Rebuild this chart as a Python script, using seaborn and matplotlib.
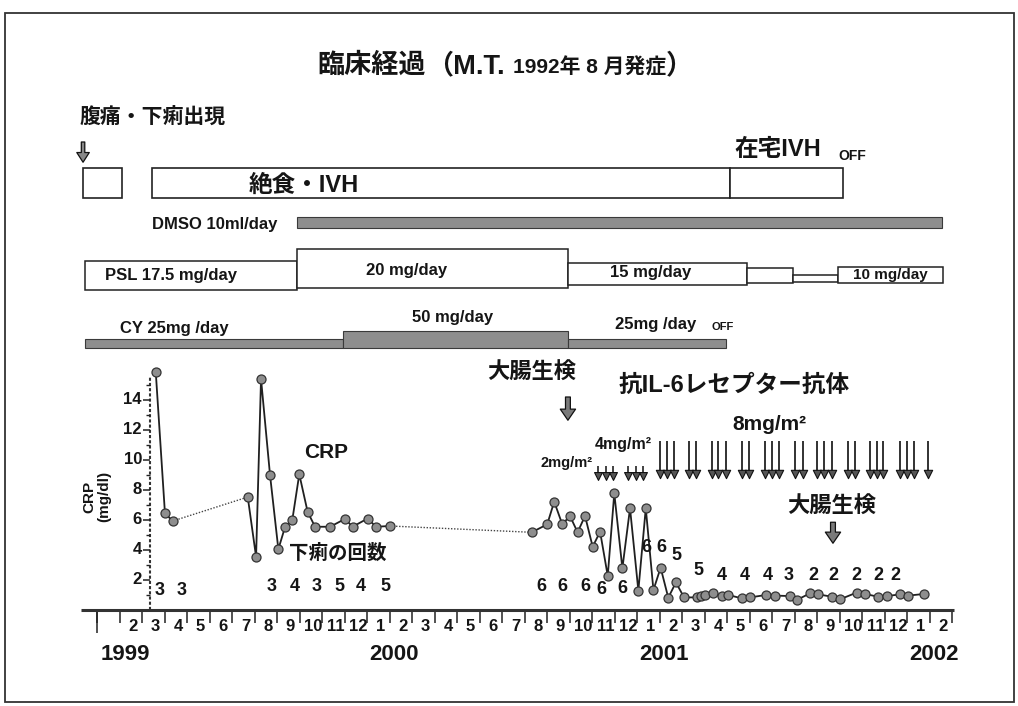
import numpy as np
import pandas as pd
import matplotlib
matplotlib.use("Agg")
import matplotlib.pyplot as plt
import seaborn as sns
from matplotlib.patches import Rectangle

# Time axis: months counted from 1 Jan 1999 (0 = start of Jan 1999)

# CRP (mg/dl), three observed stretches joined by dotted lines
crp_month_a = [2.61, 3.02, 3.36]
crp_value_a = [15.9, 6.45, 5.93]
crp_month_b = [6.70, 7.07, 7.29, 7.69, 8.06, 8.36, 8.68, 8.99, 9.36, 9.69,
               10.36, 11.02, 11.36, 12.03, 12.40, 13.02]
crp_value_b = [7.53, 3.55, 15.4, 9.0, 4.05, 5.55, 6.0, 9.05, 6.55, 5.55,
               5.55, 6.07, 5.55, 6.1, 5.55, 5.6]
crp_month_c = [19.32, 20.01, 20.32, 20.68, 21.02, 21.36, 21.69, 22.03, 22.36, 22.70,
               22.99, 23.35, 23.69, 24.06, 24.39, 24.73, 25.05, 25.39, 25.73, 26.09,
               26.65, 26.83, 27.02, 27.39, 27.76, 28.06, 28.65, 29.02, 29.73, 30.13,
               30.80, 31.10, 31.69, 32.06, 32.65, 33.02, 33.76, 34.13, 34.70, 35.10,
               35.69, 36.06, 36.76]
crp_value_c = [5.18, 5.71, 7.22, 5.71, 6.27, 5.18, 6.27, 4.22, 5.22, 2.27,
               7.78, 2.78, 6.78, 1.29, 6.78, 1.33, 2.82, 0.82, 1.84, 0.84,
               0.84, 0.93, 1.0, 1.11, 0.96, 1.0, 0.78, 0.84, 1.0, 0.96,
               0.93, 0.67, 1.11, 1.04, 0.89, 0.71, 1.16, 1.07, 0.89, 0.93,
               1.04, 0.96, 1.07]

# 下痢の回数 (diarrhoea count) labels
count_month = [2.8, 3.76, 7.76, 8.77, 9.76, 10.77, 11.73, 12.8,
               19.76, 20.7, 21.69, 22.43, 23.36, 24.43, 25.1, 25.76, 26.72,
               27.76, 28.8, 29.79, 30.72, 31.84, 32.72, 33.76, 34.72, 35.47]
count_text = ["3", "3", "3", "4", "3", "5", "4", "5",
              "6", "6", "6", "6", "6", "6", "6", "5", "5",
              "4", "4", "4", "3", "2", "2", "2", "2", "2"]
count_y = [1.3, 1.3, 1.55, 1.55, 1.55, 1.55, 1.55, 1.55,
           1.55, 1.55, 1.55, 1.35, 1.45, 4.15, 4.15, 3.6, 2.65,
           2.3, 2.3, 2.3, 2.33, 2.33, 2.33, 2.33, 2.33, 2.33]

# anti IL-6 receptor antibody doses
inj_small_month = [22.28, 22.61, 22.95, 23.61, 23.96, 24.28]
inj_large_month = [25.02, 25.32, 25.64, 26.31, 26.62, 27.32, 27.61, 27.96, 28.65,
                   28.99, 29.69, 30.01, 30.32, 31.02, 31.36, 31.99, 32.32, 32.65,
                   33.39, 33.69, 34.36, 34.65, 34.95, 35.69, 35.99, 36.31, 36.95]

# treatment rows
ivh_start = [-0.62, 2.44, 28.13]
ivh_end = [1.11, 28.13, 33.16]
dmso_start, dmso_end = 8.89, 37.56
psl_start = [-0.53, 8.89, 20.93, 28.89, 30.93, 32.93]
psl_end = [8.89, 20.93, 28.89, 30.93, 32.93, 37.6]
psl_text = ["PSL 17.5 mg/day", "20 mg/day", "15 mg/day", "", "", "10 mg/day"]
cy_start = [-0.53, 10.93, 20.93]
cy_end = [10.93, 20.93, 27.96]

month_labels = ["", "2", "3", "4", "5", "6", "7", "8", "9", "10", "11", "12",
                "1", "2", "3", "4", "5", "6", "7", "8", "9", "10", "11", "12",
                "1", "2", "3", "4", "5", "6", "7", "8", "9", "10", "11", "12",
                "1", "2"]
year_labels = ["1999", "2000", "2001", "2002"]
year_pos = [1.24, 13.2, 25.2, 37.2]
ytick_values = [2, 4, 6, 8, 10, 12, 14]

sns.set_style("white")
plt.rcParams["font.family"] = ["Liberation Sans", "Noto Sans CJK JP"]
plt.rcParams["font.weight"] = "bold"
INK = "#151515"

fig = plt.figure(figsize=(10.18, 7.06), dpi=100)
ax = fig.add_axes([0, 0, 1, 1])

# --- CRP curve
df = pd.concat([
    pd.DataFrame({"month": crp_month_a, "crp": crp_value_a, "seg": "a"}),
    pd.DataFrame({"month": crp_month_b, "crp": crp_value_b, "seg": "b"}),
    pd.DataFrame({"month": crp_month_c, "crp": crp_value_c, "seg": "c"}),
])
for (m0, v0), (m1, v1) in [((crp_month_a[-1], crp_value_a[-1]), (crp_month_b[0], crp_value_b[0])),
                           ((crp_month_b[-1], crp_value_b[-1]), (crp_month_c[0], crp_value_c[0]))]:
    ax.plot([m0, m1], [v0, v1], ls=(0, (1, 1.2)), lw=1.0, color="#444", zorder=2)
sns.lineplot(data=df, x="month", y="crp", units="seg", estimator=None, sort=False,
             color="#202020", lw=1.3, marker="o", markersize=6.5,
             markerfacecolor="#8e8e8e", markeredgecolor="#333", markeredgewidth=0.9,
             legend=False, ax=ax, zorder=3)

for m, t, y in zip(count_month, count_text, count_y):
    ax.text(m, y, t, fontsize=13, ha="center", va="center", color=INK)

# --- axes drawn by hand (slide style)
y_axis_x = 2.36
ax.hlines(0, -0.7, 38.1, color="#333", lw=2.2)
ax.vlines(np.arange(0, 39), -0.87, -0.1, color="#222", lw=1.1)
ax.vlines(0, -1.55, -0.1, color="#222", lw=1.1)
for i, lab in enumerate(month_labels):
    ax.text(i + 0.6, -1.13, lab, fontsize=12, ha="center", va="center", color=INK)
for x, lab in zip(year_pos, year_labels):
    ax.text(x, -2.95, lab, fontsize=16, ha="center", va="center", color=INK)

ax.vlines(y_axis_x, 0, 15.6, color="#333", lw=1.5, linestyles=(0, (1.5, 1)))
ax.hlines(ytick_values, y_axis_x - 0.32, y_axis_x, color="#222", lw=1.1)
ax.hlines(np.arange(1, 16, 2), y_axis_x - 0.18, y_axis_x, color="#222", lw=1.0)
for v in ytick_values:
    ax.text(y_axis_x - 0.36, v, str(v), fontsize=12, ha="right", va="center", color=INK)
ax.text(0.0, 7.55, "CRP\n(mg/dl)", rotation=90, fontsize=11, ha="center",
        va="center", linespacing=1.1, color=INK)

ax.text(10.2, 10.5, "CRP", fontsize=15, ha="center", va="center", color=INK)
ax.text(10.7, 3.8, "下痢の回数", fontsize=14, ha="center", va="center", color=INK)

# --- antibody injections
ax.vlines(inj_small_month, 9.0, 9.6, color="#222", lw=1.2)
ax.vlines(inj_large_month, 9.1, 11.25, color="#222", lw=1.3)
sns.scatterplot(x=inj_small_month, y=[8.95] * len(inj_small_month), marker="v", s=32,
                color="#555", edgecolor="#111", linewidth=0.8, ax=ax, zorder=4)
sns.scatterplot(x=inj_large_month, y=[9.05] * len(inj_large_month), marker="v", s=36,
                color="#555", edgecolor="#111", linewidth=0.8, ax=ax, zorder=4)
ax.text(20.85, 9.8, "2mg/m²", fontsize=10.5, ha="center", va="center", color=INK)
ax.text(23.4, 11.05, "4mg/m²", fontsize=11.5, ha="center", va="center", color=INK)
ax.text(29.9, 12.4, "8mg/m²", fontsize=15, ha="center", va="center", color=INK)
ax.text(28.3, 15.0, "抗IL-6レセプター抗体", fontsize=17, ha="center", va="center", color=INK)

fat = dict(width=3.5, headwidth=11, headlength=8, shrink=0.0,
           fc="#7a7a7a", ec="#111", lw=0.9)
ax.text(19.3, 15.8, "大腸生検", fontsize=16, ha="center", va="center", color=INK)
ax.annotate("", xy=(20.93, 12.65), xytext=(20.93, 14.2), arrowprops=fat)
ax.text(32.67, 6.87, "大腸生検", fontsize=16, ha="center", va="center", color=INK)
ax.annotate("", xy=(32.71, 4.45), xytext=(32.71, 5.85), arrowprops=fat)

# --- treatment rows
ax.text(-0.76, 32.8, "腹痛・下痢出現", fontsize=15, ha="left", va="center", color=INK)
ax.annotate("", xy=(-0.62, 29.85), xytext=(-0.62, 31.2),
            arrowprops=dict(width=2.5, headwidth=9, headlength=7, shrink=0.0,
                            fc="#888", ec="#111", lw=0.9))

ax.bar(x=ivh_start, height=1.95, width=np.subtract(ivh_end, ivh_start), bottom=27.5,
       align="edge", facecolor="white", edgecolor="#222", lw=1.2)
ax.text(9.2, 28.33, "絶食・IVH", fontsize=17, ha="center", va="center", color=INK)
ax.text(30.27, 30.67, "在宅IVH", fontsize=17, ha="center", va="center", color=INK)
ax.text(32.93, 30.3, "OFF", fontsize=10, ha="left", va="center", color=INK)

ax.bar(x=dmso_start, height=0.68, width=dmso_end - dmso_start, bottom=25.5, align="edge",
       facecolor="#8e8e8e", edgecolor="#3a3a3a", lw=0.8)
ax.text(2.44, 25.67, "DMSO 10ml/day", fontsize=12, ha="left", va="center", color=INK)

psl_bottom = [21.33, 21.47, 21.67, 21.8, 21.85, 21.8]
psl_top = [23.27, 24.07, 23.13, 22.8, 22.33, 22.87]
ax.bar(x=psl_start, height=np.subtract(psl_top, psl_bottom),
       width=np.subtract(psl_end, psl_start), bottom=psl_bottom, align="edge",
       facecolor="white", edgecolor="#222", lw=1.1)
psl_text_x = [0.36, 13.78, 24.62, None, None, 35.24]
psl_text_y = [22.27, 22.6, 22.47, None, None, 22.3]
psl_size = [12, 12, 12, 0, 0, 11]
for t, x, y, s in zip(psl_text, psl_text_x, psl_text_y, psl_size):
    if t:
        ax.text(x, y, t, fontsize=s, ha="left" if t.startswith("PSL") else "center",
                va="center", color=INK)

ax.bar(x=cy_start, height=[0.6, 1.13, 0.6], width=np.subtract(cy_end, cy_start),
       bottom=17.47, align="edge", facecolor="#8e8e8e", edgecolor="#3a3a3a", lw=0.8)
ax.text(1.02, 18.8, "CY 25mg /day", fontsize=12, ha="left", va="center", color=INK)
ax.text(15.82, 19.47, "50 mg/day", fontsize=12, ha="center", va="center", color=INK)
ax.text(24.84, 19.0, "25mg /day", fontsize=12, ha="center", va="center", color=INK)
ax.text(27.33, 18.85, "OFF", fontsize=8, ha="left", va="center", color=INK)

# --- title
t1 = ax.text(9.78, 36.27, "臨床経過", fontsize=19.5, ha="left", va="center", color=INK)
t1b = ax.annotate("（M.T.", xy=(1, 0.5), xycoords=t1, xytext=(0, 0),
                  textcoords="offset points", fontsize=19.5, ha="left", va="center", color=INK)
t2 = ax.annotate("1992年 8 月発症", xy=(1, 0.5), xycoords=t1b, xytext=(6, -1),
                 textcoords="offset points", fontsize=15, ha="left", va="center", color=INK)
ax.annotate("）", xy=(1, 0.5), xycoords=t2, xytext=(0, 1), textcoords="offset points",
            fontsize=19.5, ha="left", va="center", color=INK)

# slide frame
fig.add_artist(Rectangle((5 / 1018, 4 / 706), 1009 / 1018, 689 / 706, fill=False,
                         lw=1.3, ec="#333", transform=fig.transFigure))

ax.set_xlim(-97 / 22.5, (1018 - 97) / 22.5)
ax.set_ylim(-(706 - 610) / 15, 610 / 15)
ax.axis("off")

fig.savefig("out.png", dpi=100)
